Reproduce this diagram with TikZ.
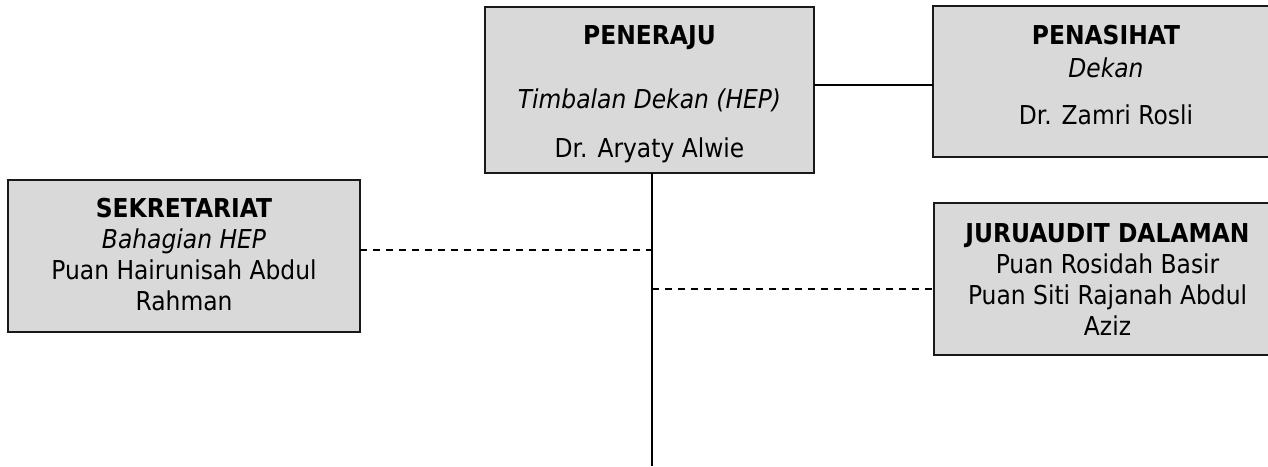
\documentclass[tikz,border=0pt]{standalone}
\usepackage{fontspec}
\setmainfont{DejaVu Sans}[FakeStretch=0.9]
\begin{document}
\begin{tikzpicture}[x=1pt,y=-1pt,
  orgbox/.style={draw=black!90,line width=2.2pt,fill=black!15,inner sep=0pt,outer sep=0pt,anchor=north west},
  orgtext/.style={inner sep=0pt,anchor=north,align=center,font=\fontsize{26}{31}\selectfont},
  link/.style={line width=2.2pt},
  dotlink/.style={line width=2.2pt,dash pattern=on 7pt off 6pt}]
\useasboundingbox (0,0) rectangle (1268,466);
% boxes
\node[orgbox,minimum width=329,minimum height=166] (peneraju) at (485,7) {};
\node[orgbox,minimum width=347,minimum height=151] (penasihat) at (933,6) {};
\node[orgbox,minimum width=352,minimum height=152] (sekretariat) at (8,180) {};
\node[orgbox,minimum width=347,minimum height=152] (juruaudit) at (934,203) {};
% box texts
\node[orgtext] (peneraju-t) at (649.5,25) {\textbf{PENERAJU}\\[33pt]
  \textit{Timbalan Dekan (HEP)}\\[18pt] Dr. Aryaty Alwie};
\node[orgtext] (penasihat-t) at (1106,25) {\textbf{PENASIHAT}\\[2pt]
  \textit{Dekan}\\[16pt] Dr. Zamri Rosli};
\node[orgtext] (sekretariat-t) at (184,198) {\textbf{SEKRETARIAT}\\
  \textit{Bahagian HEP}\\ Puan Hairunisah Abdul\\ Rahman};
\node[orgtext] (juruaudit-t) at (1107.5,223) {\textbf{JURUAUDIT DALAMAN}\\
  Puan Rosidah Basir\\ Puan Siti Rajanah Abdul\\ Aziz};
% spine and links
\coordinate (spineA) at (652,250);
\coordinate (spineB) at (652,289);
\coordinate (spineEnd) at (652,466);
\coordinate (adviseY) at (874,85);
\draw[link] (peneraju.south -| spineEnd) -- (spineEnd);
\draw[link] (adviseY -| peneraju.east) -- (adviseY -| penasihat.west);
\draw[dotlink] (spineA -| sekretariat.east) -- (spineA);
\draw[dotlink] (spineB) -- (spineB -| juruaudit.west);
\end{tikzpicture}
\end{document}
